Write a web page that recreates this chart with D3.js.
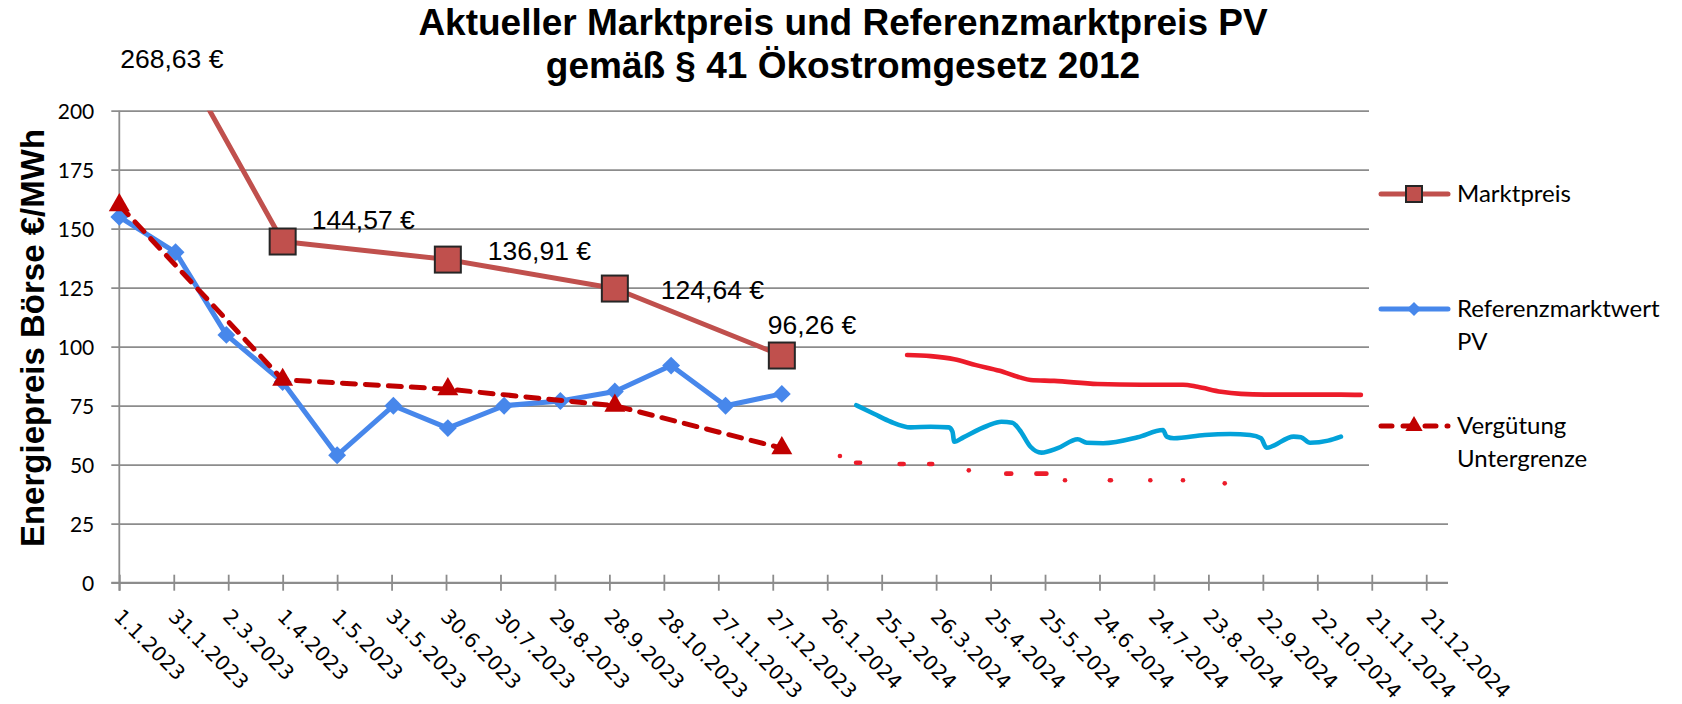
<!DOCTYPE html>
<html lang="de">
<head>
<meta charset="utf-8">
<script src="https://cdn.jsdelivr.net/npm/d3@7/dist/d3.min.js"></script>
<style>
html,body{margin:0;padding:0;background:#fff;}
svg{display:block;}
</style>
</head>
<body>
<svg id="chart" width="1682" height="704"></svg>
<script>
// ---------------- data ----------------
const titleLines = ["Aktueller Marktpreis und Referenzmarktpreis PV", "gemäß § 41 Ökostromgesetz 2012"];
const yAxisTitle = "Energiepreis Börse €/MWh";
const yTickValues = [0, 25, 50, 75, 100, 125, 150, 175, 200];
const xTickLabels = ["1.1.2023","31.1.2023","2.3.2023","1.4.2023","1.5.2023","31.5.2023","30.6.2023",
  "30.7.2023","29.8.2023","28.9.2023","28.10.2023","27.11.2023","27.12.2023","26.1.2024","25.2.2024",
  "26.3.2024","25.4.2024","25.5.2024","24.6.2024","24.7.2024","23.8.2024","22.9.2024","22.10.2024",
  "21.11.2024","21.12.2024"];
const xDomain = ["1.1.2023", "2.1.2025"];

const seriesNames = ["Marktpreis", "Referenzmarktwert PV", "Vergütung Untergrenze"];

const marktDates  = ["1.1.2023","1.4.2023","1.7.2023","1.10.2023","1.1.2024"];
const marktValues = [268.63, 144.57, 136.91, 124.64, 96.26];

const refDates  = ["1.1.2023","1.2.2023","1.3.2023","1.4.2023","1.5.2023","1.6.2023","1.7.2023",
  "1.8.2023","1.9.2023","1.10.2023","1.11.2023","1.12.2023","1.1.2024"];
const refValues = [155, 140, 105, 85, 54, 75, 65.5, 75, 77, 81, 92, 75, 80];

const vergDates  = ["1.1.2023","1.4.2023","1.7.2023","1.10.2023","1.1.2024"];
const vergValues = [160, 86, 82, 75, 57];

// hand-drawn 2024 sketches
const sketchRedDates = ["10.3.2024","23.3.2024","5.4.2024","17.4.2024","30.4.2024","11.5.2024","17.5.2024",
  "30.5.2024","23.6.2024","17.7.2024","9.8.2024","17.8.2024","30.8.2024","10.9.2024","23.9.2024",
  "4.11.2024","15.11.2024"];
const sketchRedValues = [96.5, 96, 94.7, 92.2, 89.8, 87, 85.9, 85.5, 84.2, 83.9, 83.9, 83, 80.9, 80, 79.7, 79.7, 79.6];

const sketchCyanDates = ["11.2.2024","21.2.2024","1.3.2024","12.3.2024","23.3.2024","2.4.2024","4.4.2024",
  "5.4.2024","10.4.2024","23.4.2024","1.5.2024","7.5.2024","11.5.2024","17.5.2024","23.5.2024","1.6.2024",
  "12.6.2024","17.6.2024","26.6.2024","15.7.2024","29.7.2024","31.7.2024","4.8.2024","21.8.2024","4.9.2024",
  "15.9.2024","21.9.2024","24.9.2024","9.10.2024","13.10.2024","18.10.2024","28.10.2024","4.11.2024"];
const sketchCyanValues = [75.2, 71.5, 68.2, 65.8, 66.1, 65.8, 64, 59.7, 61.6, 66.4, 68.2, 67.8, 64.7, 57.6, 55.1, 57,
  60.8, 59.3, 59.1, 61.6, 64.7, 61.9, 61.2, 62.6, 63, 62.6, 61.2, 57.2, 61.9, 61.6, 59.3, 60.2, 61.9];

const sketchDotDates  = ["2.2.2024","12.2.2024","7.3.2024","23.3.2024","13.4.2024","5.5.2024","23.5.2024",
  "5.6.2024","30.6.2024","22.7.2024","9.8.2024","1.9.2024"];
const sketchDotValues = [53.7, 50.8, 50.3, 50.3, 47.6, 46.2, 46.2, 43.4, 43.4, 43.4, 43.4, 42.1];

// ---------------- layout / style ----------------
const W = 1682, H = 704;
const plot = {left: 119.3, right: 1448, top: 110.7, bottom: 582.7};
const C = {
  markt: "#C0504D", ref: "#4787EB", verg: "#C00000",
  sketchRed: "#EC1C2A", sketchCyan: "#03A2D9",
  grid: "#8C8C8C", text: "#000"
};
const dotStretch = [0, 4, 4, 3, 0, 5, 10, 0, 1, 0, 0, 0];   // visual length of each pen dash
const labelOffsets = [[1, 0], [29, -22], [40, -9], [46, 1], [-14, -31]];

const parse = d3.utcParse("%d.%m.%Y");
const fmt = d3.formatLocale({decimal: ",", thousands: ".", grouping: [3], currency: ["", " €"]}).format("$.2f");

const svg = d3.select("#chart");
svg.append("rect").attr("width", W).attr("height", H).attr("fill", "#fff");

const x = d3.scaleUtc().domain(xDomain.map(parse)).range([plot.left, plot.right]);
const y = d3.scaleLinear().domain([0, 200]).range([plot.bottom, plot.top]);

const defs = svg.append("defs");
defs.append("clipPath").attr("id", "clipTop").append("rect")
  .attr("x", 0).attr("y", plot.top).attr("width", W).attr("height", H - plot.top);

// ---------------- grid + y axis ----------------
const yAxis = d3.axisLeft(y).tickValues(yTickValues).tickSizeInner(-(plot.right - plot.left)).tickSizeOuter(0).tickPadding(0);
const gy = svg.append("g").attr("transform", `translate(${plot.left},0)`).call(yAxis);
gy.select(".domain").remove();
gy.selectAll(".tick line").attr("x1", -8).attr("x2", plot.right - plot.left)
  .attr("stroke", C.grid).attr("stroke-width", 1.8);
gy.selectAll(".tick text").attr("x", -25).attr("dy", "0.35em")
  .attr("font-family", "Lato, 'Open Sans', sans-serif").attr("font-size", 21).attr("fill", C.text);

svg.append("line").attr("x1", plot.left).attr("x2", plot.left).attr("y1", plot.top).attr("y2", plot.bottom + 8)
  .attr("stroke", C.grid).attr("stroke-width", 1.8);

// ---------------- x axis ----------------
const xTicks = xTickLabels.map(parse);
const xAxis = d3.axisBottom(x).tickValues(xTicks).tickSizeInner(8).tickSizeOuter(0)
  .tickFormat((d, i) => xTickLabels[i]);
const gx = svg.append("g").attr("transform", `translate(0,${plot.bottom})`).call(xAxis);
gx.select(".domain").attr("d", `M${plot.left - 8},0H${plot.right}`).attr("stroke", C.grid).attr("stroke-width", 1.8);
gx.selectAll(".tick line").attr("y1", -8).attr("y2", 8).attr("stroke", C.grid).attr("stroke-width", 1.8);
gx.selectAll(".tick text")
  .attr("y", 0).attr("dy", 0)
  .attr("transform", "translate(-7,35) rotate(45)")
  .attr("text-anchor", "start")
  .attr("font-family", "'DejaVu Sans', Verdana, sans-serif").attr("font-size", 20.3).attr("fill", C.text);

// ---------------- series ----------------
const markt = marktDates.map((d, i) => ({date: parse(d), value: marktValues[i]}));
const ref = refDates.map((d, i) => ({date: parse(d), value: refValues[i]}));
const verg = vergDates.map((d, i) => ({date: parse(d), value: vergValues[i]}));

const line = d3.line().x(d => x(d.date)).y(d => y(d.value));

// Marktpreis
svg.append("path").datum(markt).attr("clip-path", "url(#clipTop)")
  .attr("d", line).attr("fill", "none").attr("stroke", C.markt).attr("stroke-width", 5)
  .attr("stroke-linejoin", "round");
svg.append("g").selectAll("rect").data(markt.filter(d => d.value <= 200)).join("rect")
  .attr("x", d => x(d.date) - 13).attr("y", d => y(d.value) - 13)
  .attr("width", 26).attr("height", 26)
  .attr("fill", C.markt).attr("stroke", "#262626").attr("stroke-width", 2);

// Referenzmarktwert PV
svg.append("path").datum(ref).attr("d", line).attr("fill", "none")
  .attr("stroke", C.ref).attr("stroke-width", 5).attr("stroke-linejoin", "round");
svg.append("g").selectAll("path").data(ref).join("path")
  .attr("d", d3.symbol().type(d3.symbolSquare).size(160))
  .attr("transform", d => `translate(${x(d.date)},${y(d.value)}) rotate(45)`)
  .attr("fill", C.ref);

// Vergütung Untergrenze
svg.append("path").datum(verg).attr("d", line).attr("fill", "none")
  .attr("stroke", C.verg).attr("stroke-width", 5).attr("stroke-dasharray", "13,10")
  .attr("stroke-linecap", "round");
svg.append("g").selectAll("path").data(verg).join("path")
  .attr("d", d3.symbol().type(d3.symbolTriangle).size(190))
  .attr("transform", d => `translate(${x(d.date)},${y(d.value)})`)
  .attr("fill", C.verg);

// data labels Marktpreis
svg.append("g").selectAll("text").data(markt).join("text")
  .attr("x", (d, i) => x(d.date) + labelOffsets[i][0])
  .attr("y", (d, i) => d.value > 200 ? plot.top - 52 : y(d.value) + labelOffsets[i][1])
  .attr("dy", "0.35em")
  .attr("font-family", "'Liberation Sans', Arial, sans-serif").attr("font-size", 26.5).attr("fill", C.text)
  .text(d => fmt(d.value));

// ---------------- hand-drawn sketches ----------------
const sketchRed = sketchRedDates.map((d, i) => ({date: parse(d), value: sketchRedValues[i]}));
const sketchCyan = sketchCyanDates.map((d, i) => ({date: parse(d), value: sketchCyanValues[i]}));
const sketchDots = sketchDotDates.map((d, i) => ({date: parse(d), value: sketchDotValues[i], len: dotStretch[i]}));
const smooth = d3.line().x(d => x(d.date)).y(d => y(d.value)).curve(d3.curveMonotoneX);

svg.append("path").datum(sketchRed).attr("d", smooth).attr("fill", "none")
  .attr("stroke", C.sketchRed).attr("stroke-width", 4.6).attr("stroke-linecap", "round").attr("stroke-linejoin", "round");
svg.append("path").datum(sketchCyan).attr("d", smooth).attr("fill", "none")
  .attr("stroke", C.sketchCyan).attr("stroke-width", 4.6).attr("stroke-linecap", "round").attr("stroke-linejoin", "round");
svg.append("g").selectAll("line").data(sketchDots).join("line")
  .attr("x1", d => x(d.date) - d.len / 2).attr("x2", d => x(d.date) + d.len / 2 + 0.01)
  .attr("y1", d => y(d.value)).attr("y2", d => y(d.value))
  .attr("stroke", C.sketchRed).attr("stroke-width", 4.6).attr("stroke-linecap", "round");

// ---------------- legend ----------------
const lg = svg.append("g");
lg.append("rect").attr("x", 1369).attr("y", 100).attr("width", W - 1369).attr("height", 400).attr("fill", "#fff");
const legendItems = [
  {name: seriesNames[0], lines: ["Marktpreis"], y: 194, color: C.markt, dash: null, marker: "square"},
  {name: seriesNames[1], lines: ["Referenzmarktwert", "PV"], y: 309, color: C.ref, dash: null, marker: "diamond"},
  {name: seriesNames[2], lines: ["Vergütung", "Untergrenze"], y: 426, color: C.verg, dash: "11,11", marker: "triangle"}
];
legendItems.forEach(it => {
  const g = lg.append("g");
  g.append("line").attr("x1", 1381).attr("x2", 1448).attr("y1", it.y).attr("y2", it.y)
    .attr("stroke", it.color).attr("stroke-width", 5).attr("stroke-linecap", "round")
    .attr("stroke-dasharray", it.dash);
  if (it.marker === "square") {
    g.append("rect").attr("x", 1414 - 8).attr("y", it.y - 8).attr("width", 16).attr("height", 16)
      .attr("fill", it.color).attr("stroke", "#262626").attr("stroke-width", 2);
  } else if (it.marker === "diamond") {
    g.append("path").attr("d", d3.symbol().type(d3.symbolSquare).size(100))
      .attr("transform", `translate(1414,${it.y}) rotate(45)`).attr("fill", it.color);
  } else {
    g.append("path").attr("d", d3.symbol().type(d3.symbolTriangle).size(130))
      .attr("transform", `translate(1414,${it.y})`).attr("fill", it.color);
  }
  it.lines.forEach((t, k) => {
    g.append("text").attr("x", 1457).attr("y", it.y + k * 33).attr("dy", "0.35em")
      .attr("font-family", "Lato, 'Open Sans', sans-serif").attr("font-size", 24).attr("fill", C.text).text(t);
  });
});

// ---------------- titles ----------------
svg.append("g").selectAll("text").data(titleLines).join("text")
  .attr("x", 843).attr("y", (d, i) => 35 + i * 43)
  .attr("text-anchor", "middle")
  .attr("font-family", "'Liberation Sans', Arial, sans-serif").attr("font-weight", "bold")
  .attr("font-size", 37).attr("fill", C.text).text(d => d);

svg.append("text")
  .attr("transform", "translate(32,338) rotate(-90)")
  .attr("text-anchor", "middle").attr("dy", "0.35em")
  .attr("font-family", "'Liberation Sans', Arial, sans-serif").attr("font-weight", "bold")
  .attr("font-size", 33).attr("fill", C.text).text(yAxisTitle);
</script>
</body>
</html>
